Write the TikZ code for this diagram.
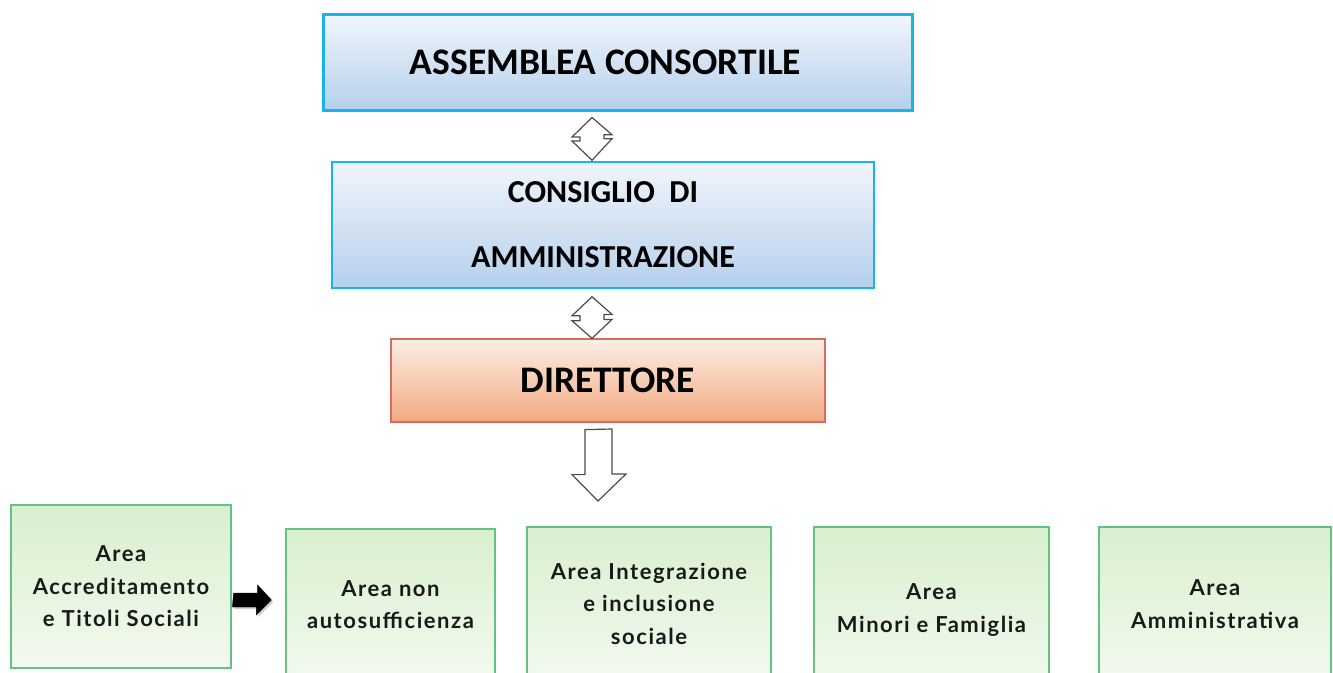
\documentclass[tikz,border=0pt]{standalone}
\usepackage{fontspec}
\setmainfont{Carlito}
\newfontfamily\areafont[LetterSpace=7]{Lato}
\usepackage{tikz}
\usetikzlibrary{calc,shadows}

\definecolor{bluetop}{HTML}{F1F5FB}
\definecolor{bluebot}{HTML}{B5D0EC}
\definecolor{cyanline}{HTML}{1AB2EC}
\definecolor{peachtop}{HTML}{FCEEE6}
\definecolor{peachbot}{HTML}{F3AA80}
\definecolor{redline}{HTML}{D86A62}
\definecolor{greentop}{HTML}{D9EFCF}
\definecolor{greenbot}{HTML}{F2FAEE}
\definecolor{greenline}{HTML}{62C183}

\begin{document}
\begin{tikzpicture}[x=1pt,y=-1pt,
    bluebox/.style={draw=cyanline,top color=bluetop,bottom color=bluebot,inner sep=0pt,align=center,font=\bfseries},
    peachbox/.style={draw=redline,line width=1.2pt,top color=peachtop,bottom color=peachbot,inner sep=0pt,align=center,font=\bfseries},
    areabox/.style={draw=greenline,line width=1.2pt,top color=greentop,bottom color=greenbot,inner sep=0pt,align=center,
      font=\areafont\bfseries\fontsize{22}{32.5}\selectfont,text=black!90},
    hollow/.style={draw=black!70,fill=white,line width=1.2pt,line join=miter}]
  \useasboundingbox (0,0) rectangle (1333,672);

  \node[bluebox,line width=3pt,minimum width=589pt,minimum height=96pt,font=\bfseries\fontsize{37.5}{45}\selectfont] (assemblea) at (617.5,62) {ASSEMBLEA CONSORTILE\hspace*{24pt}};
  \node[bluebox,line width=1.5pt,minimum width=542pt,minimum height=126pt,font=\bfseries\fontsize{32}{65}\selectfont] (consiglio) at (603,225) {CONSIGLIO\ \ DI\\AMMINISTRAZIONE};
  \node[peachbox,minimum width=434pt,minimum height=83pt,font=\bfseries\fontsize{37.5}{45}\selectfont] (direttore) at (608,380.5) {DIRETTORE};

  \node[areabox,minimum width=220pt,minimum height=163pt] (accred) at (121,586.5) {Area\\Accreditamento\\e Titoli Sociali};
  \node[areabox,minimum width=209pt,minimum height=151pt] (nonauto) at (390.5,604.5) {Area non\\autosufficienza};
  \node[areabox,minimum width=244pt,minimum height=153pt] (integr) at (649,603.5) {Area Integrazione\\e inclusione\\sociale};
  \node[areabox,minimum width=235pt,minimum height=166pt] (minori) at (931.5,610) {Area\\Minori e Famiglia};
  \node[areabox,minimum width=232pt,minimum height=154pt] (ammin) at (1215,604) {Area\\Amministrativa};

  \coordinate (areas) at (598,501);

  % frecce tra gli organi
  \draw[hollow] ([xshift=-25.5pt,yshift=-6pt]assemblea.south) -- ++(-20,19.5) -- ++(8,0) -- ++(0,4) -- ++(-8,0)
    -- ([xshift=-11pt,yshift=1pt]consiglio.north) -- ++(20,-21.5) -- ++(-8,0) -- ++(0,-4) -- ++(8,0) -- cycle;
  \draw[hollow] ([xshift=-11pt,yshift=-8pt]consiglio.south) -- ++(-20,19) -- ++(8,0) -- ++(0,5) -- ++(-8,0)
    -- ([xshift=-16pt]direttore.north) -- ++(20,-19) -- ++(-8,0) -- ++(0,-5) -- ++(8,0) -- cycle;
  \draw[hollow] ([xshift=-23pt,yshift=-7pt]direttore.south) -- ++(0,45) -- ++(-13,0) -- (areas)
    -- ++(28,-27) -- ++(-14,0) -- ++(0,-45) -- cycle;

  \draw[fill=black,drop shadow={shadow xshift=2pt,shadow yshift=-2pt,fill=black!35}]
    ([xshift=2pt,yshift=-6.5pt]accred.east) -- ++(24,0) -- ++(0,-8)
    -- ([xshift=-14pt,yshift=4.5pt]nonauto.west) -- ++(-15,15) -- ++(0,-8) -- ++(-24,0) -- cycle;
\end{tikzpicture}
\end{document}
